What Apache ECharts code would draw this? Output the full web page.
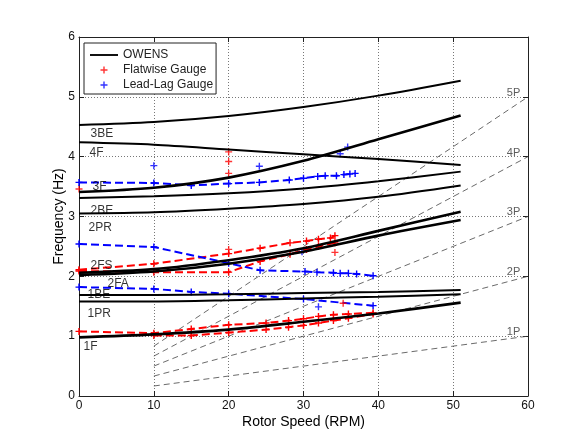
<!DOCTYPE html>
<html><head><meta charset="utf-8">
<script src="https://cdn.jsdelivr.net/npm/echarts@6/dist/echarts.min.js"></script>
<style>html,body{margin:0;padding:0;background:#fff}#c{width:573px;height:440px}</style>
</head><body><div id="c"></div>
<script>
// ---- OWENS model curves (rotor speed RPM -> frequency Hz) ----
const owensRpm  = [0, 10, 20, 30, 40, 51];
const owens3BE  = [4.53, 4.58, 4.68, 4.83, 5.02, 5.27];
const owens4F   = [4.24, 4.20, 4.12, 4.04, 3.96, 3.86];
const owens3F   = [3.41, 3.48, 3.65, 3.93, 4.29, 4.69];
const owens3X   = [3.31, 3.34, 3.39, 3.47, 3.59, 3.75];
const owens2BE  = [3.05, 3.07, 3.13, 3.21, 3.33, 3.52];
const owens2FSa = [2.06, 2.12, 2.27, 2.47, 2.76, 3.08];
const owens2FSb = [2.02, 2.08, 2.21, 2.41, 2.68, 2.94];
const owens1BE  = [1.69, 1.69, 1.70, 1.72, 1.74, 1.77];
const owens1PR  = [1.58, 1.58, 1.60, 1.63, 1.66, 1.70];
const owens1F   = [0.98, 1.03, 1.11, 1.24, 1.38, 1.56];

// ---- Flatwise gauge (red) ----
const flat1FaRpm  = [0, 10, 15, 20, 25, 28, 30, 32, 34, 36, 39.3];
const flat1FaHz   = [1.08, 1.05, 1.12, 1.19, 1.22, 1.26, 1.29, 1.33, 1.36, 1.37, 1.39];
const flat1FbRpm  = [10, 15, 20, 25, 28, 30, 32, 34, 36, 39.3];
const flat1FbHz   = [1.01, 1.01, 1.06, 1.11, 1.15, 1.18, 1.22, 1.26, 1.30, 1.37];
const flat2FaRpm  = [0, 10, 20, 24.2, 28.2, 30.4, 32, 33.6, 34.2];
const flat2FaHz   = [2.11, 2.21, 2.38, 2.47, 2.56, 2.59, 2.62, 2.64, 2.68];
const flat2FbRpm  = [0, 10, 20, 24.2, 28.2, 30.4, 32, 34.2];
const flat2FbHz   = [2.09, 2.07, 2.07, 2.25, 2.37, 2.45, 2.50, 2.56];
const flatPtRpm   = [0, 20, 20, 20, 20, 34.2, 35.3];
const flatPtHz    = [3.46, 4.08, 3.92, 3.72, 2.45, 2.40, 1.55];

// ---- Lead-lag gauge (blue) ----
const lag3Rpm = [0, 10, 15, 20, 24.1, 28.1, 30, 31.9, 32.9, 34.4, 35.4, 36.2, 36.9];
const lag3Hz  = [3.57, 3.56, 3.52, 3.55, 3.57, 3.61, 3.64, 3.67, 3.68, 3.68, 3.70, 3.71, 3.72];
const lag2Rpm = [0, 10, 20, 24.2, 30.2, 31.8, 34, 34.9, 36, 37.1, 39.3];
const lag2Hz  = [2.54, 2.49, 2.22, 2.10, 2.08, 2.07, 2.06, 2.05, 2.05, 2.04, 2.01];
const lag1Rpm = [0, 10, 15, 20, 30, 39.3];
const lag1Hz  = [1.82, 1.79, 1.74, 1.71, 1.62, 1.51];
const lagPtRpm = [10, 24.1, 34.9, 35.9, 29.8, 32];
const lagPtHz  = [3.85, 3.84, 4.05, 4.16, 2.41, 1.49];

// ---- per-rev excitation lines ----
const perRevRpm   = [10, 60];
const perRevHz    = [[0.167, 1], [0.333, 2], [0.5, 3], [0.667, 4], [0.833, 5]];
const perRevNames = ['1P', '2P', '3P', '4P', '5P'];
const perRevLabelRpm = [57.1, 57.1, 57.1, 57.1, 57.1];
const perRevLabelHz  = [1.07, 2.07, 3.07, 4.07, 5.07];

// ---- mode labels ----
const modeNames = ['3BE', '4F', '3F', '2BE', '2PR', '2FS', '2FA', '1BE', '1PR', '1F'];
const modeRpm   = [1.47, 1.34, 1.74, 1.47, 1.2, 1.47, 3.74, 1.07, 1.07, 0.53];
const modeHz    = [4.38, 4.07, 3.49, 3.10, 2.81, 2.17, 1.87, 1.70, 1.38, 0.82];

const FONT = 'Liberation Sans, Arial, sans-serif';
const PLUS = 'path://M4,0H6V4H10V6H6V10H4V6H0V4H4Z';
const BAR  = 'path://M0,0H30V2H0Z';
const zip = (a, b) => a.map((v, i) => [v, b[i]]);

const series = [];
perRevHz.forEach(h => series.push({
  type: 'line', data: zip(perRevRpm, h), symbol: 'none', silent: true, z: 1,
  lineStyle: { color: '#444', width: 0.8, type: [6, 4] }
}));
[owens3BE, owens4F, owens3X, owens2BE, owens1BE, owens1PR].forEach(ys => series.push({
  name: 'OWENS', type: 'line', data: zip(owensRpm, ys), symbol: 'none', smooth: 0.3, z: 4,
  lineStyle: { color: '#000', width: 2 }, itemStyle: { color: '#000' }
}));
[owens3F, owens2FSa, owens2FSb, owens1F].forEach(ys => series.push({
  name: 'OWENS', type: 'line', data: zip(owensRpm, ys), symbol: 'none', smooth: 0.3, z: 4,
  lineStyle: { color: '#000', width: 2.6 }, itemStyle: { color: '#000' }
}));
const gaugeLine = (name, color, xs, ys) => ({
  name, type: 'line', data: zip(xs, ys), symbol: PLUS, symbolSize: 7, z: 3,
  lineStyle: { color, width: 2, type: [8, 4] }, itemStyle: { color }
});
series.push({ name: 'Flatwise Gauge', type: 'scatter', data: zip(flatPtRpm, flatPtHz), symbol: PLUS, symbolSize: 7, itemStyle: { color: '#ff0000' }, z: 3 });
series.push(gaugeLine('Flatwise Gauge', '#ff0000', flat1FaRpm, flat1FaHz));
series.push(gaugeLine('Flatwise Gauge', '#ff0000', flat1FbRpm, flat1FbHz));
series.push(gaugeLine('Flatwise Gauge', '#ff0000', flat2FaRpm, flat2FaHz));
series.push(gaugeLine('Flatwise Gauge', '#ff0000', flat2FbRpm, flat2FbHz));
series.push({ name: 'Lead-Lag Gauge', type: 'scatter', data: zip(lagPtRpm, lagPtHz), symbol: PLUS, symbolSize: 7, itemStyle: { color: '#0000ff' }, z: 3 });
series.push(gaugeLine('Lead-Lag Gauge', '#0000ff', lag3Rpm, lag3Hz));
series.push(gaugeLine('Lead-Lag Gauge', '#0000ff', lag2Rpm, lag2Hz));
series.push(gaugeLine('Lead-Lag Gauge', '#0000ff', lag1Rpm, lag1Hz));

series.push({
  type: 'scatter', silent: true, z: 6, symbolSize: 1, itemStyle: { color: 'rgba(0,0,0,0)' },
  data: modeNames.map((n, i) => [modeRpm[i], modeHz[i], n]),
  label: { show: true, position: 'right', distance: 0, formatter: p => p.value[2],
           color: '#000', fontSize: 12, fontFamily: FONT }
});
series.push({
  type: 'scatter', silent: true, z: 6, symbolSize: 1, itemStyle: { color: 'rgba(0,0,0,0)' },
  data: perRevNames.map((n, i) => [perRevLabelRpm[i], perRevLabelHz[i], n]),
  label: { show: true, position: 'right', distance: 0, formatter: p => p.value[2],
           color: '#333', fontSize: 11, fontFamily: FONT }
});

const axLine = { show: true, onZero: false, lineStyle: { color: '#222', width: 1 } };
const axTick = { show: true, inside: true, length: 5, lineStyle: { color: '#222' } };
const split = { show: true, lineStyle: { color: '#777', width: 1, type: [1, 2] } };

const chart = echarts.init(document.getElementById('c'), null, { renderer: 'canvas' });
chart.setOption({
  backgroundColor: '#fff',
  animation: false,
  textStyle: { fontFamily: FONT },
  grid: { left: 79, right: 45, top: 37, bottom: 44, containLabel: false },
  legend: {
    left: 84, top: 43, orient: 'vertical', itemWidth: 28, itemHeight: 7, itemGap: 3,
    padding: [6, 3, 3, 6], borderColor: '#222', borderWidth: 1, backgroundColor: '#fff',
    textStyle: { fontSize: 12, color: '#222', fontFamily: FONT },
    data: [
      { name: 'OWENS', icon: BAR },
      { name: 'Flatwise Gauge', icon: PLUS },
      { name: 'Lead-Lag Gauge', icon: PLUS }
    ]
  },
  xAxis: [{
    type: 'value', min: 0, max: 60, interval: 10, position: 'bottom',
    axisLine: axLine, axisTick: axTick, splitLine: split,
    axisLabel: { color: '#111', fontSize: 12, margin: 4, fontFamily: FONT },
    name: 'Rotor Speed (RPM)', nameLocation: 'middle', nameGap: 19, nameMoveOverlap: false,
    nameTextStyle: { fontSize: 14, color: '#000', fontFamily: FONT }
  }, {
    type: 'value', min: 0, max: 60, interval: 10, position: 'top',
    axisLine: axLine, axisTick: axTick, splitLine: { show: false }, axisLabel: { show: false }
  }],
  yAxis: [{
    type: 'value', min: 0, max: 6, interval: 1, position: 'left',
    axisLine: axLine, axisTick: axTick, splitLine: split,
    axisLabel: { color: '#111', fontSize: 12, margin: 4, fontFamily: FONT },
    name: 'Frequency (Hz)', nameLocation: 'middle', nameGap: 13, nameMoveOverlap: false,
    nameTextStyle: { fontSize: 14, color: '#000', fontFamily: FONT }
  }, {
    type: 'value', min: 0, max: 6, interval: 1, position: 'right',
    axisLine: axLine, axisTick: axTick, splitLine: { show: false }, axisLabel: { show: false }
  }],
  series
});
</script></body></html>
